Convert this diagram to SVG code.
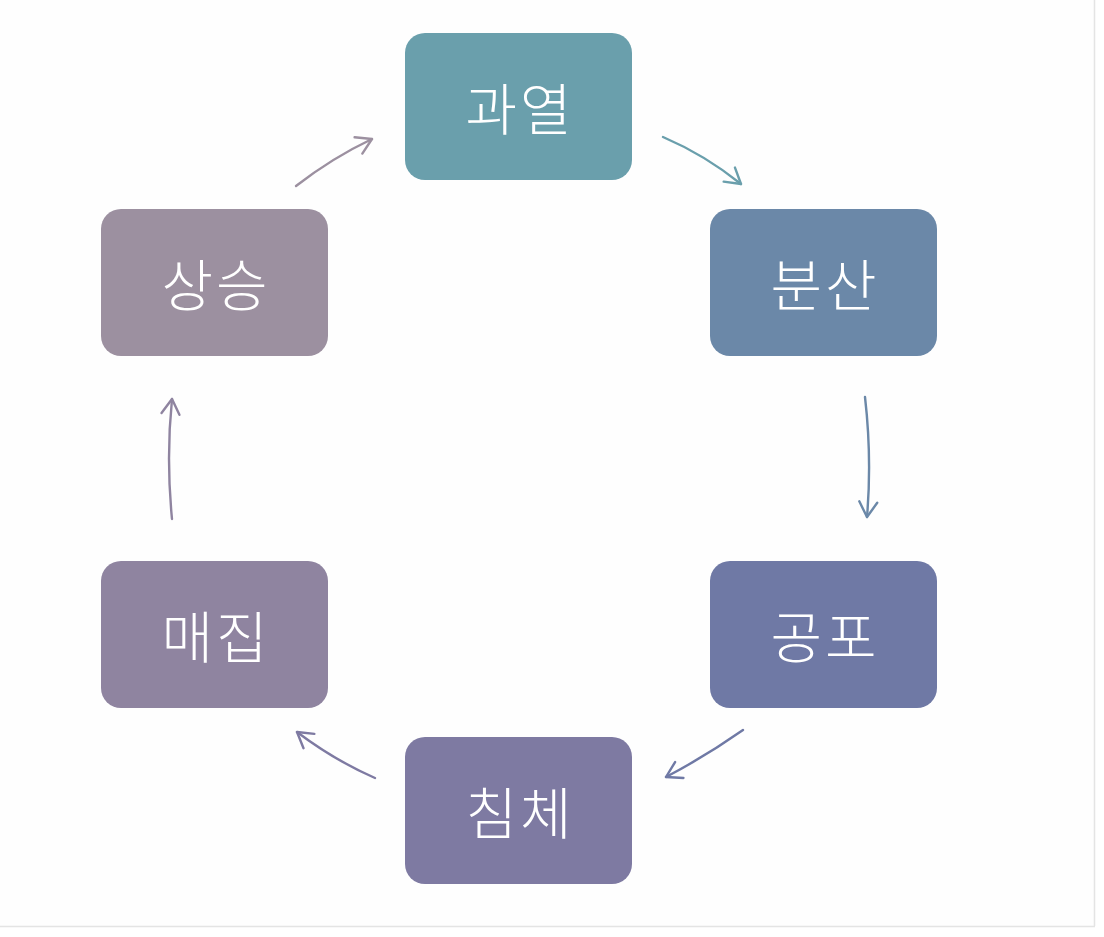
<svg xmlns="http://www.w3.org/2000/svg" width="1104" height="937" viewBox="0 0 1104 937">
<style>
.box{rx:20px;ry:20px}
.lbl{font-family:"Noto Sans CJK KR","Noto Sans",sans-serif;font-size:56px;font-weight:300;letter-spacing:3px;fill:#ffffff;text-anchor:middle;dominant-baseline:central}
.con{fill:none;stroke-width:2.4;stroke-linecap:round}
</style>
<defs>
<marker id="m1" markerUnits="userSpaceOnUse" markerWidth="30" markerHeight="30" refX="0" refY="0" viewBox="-20 -15 30 30" orient="auto" overflow="visible"><path d="M-15,-9 L0,0 L-15,9" fill="none" stroke="#6a9fac" stroke-width="2.4" stroke-linecap="round" stroke-linejoin="round"/></marker>
<marker id="m2" markerUnits="userSpaceOnUse" markerWidth="30" markerHeight="30" refX="0" refY="0" viewBox="-20 -15 30 30" orient="auto" overflow="visible"><path d="M-15,-9 L0,0 L-15,9" fill="none" stroke="#6b88a8" stroke-width="2.4" stroke-linecap="round" stroke-linejoin="round"/></marker>
<marker id="m3" markerUnits="userSpaceOnUse" markerWidth="30" markerHeight="30" refX="0" refY="0" viewBox="-20 -15 30 30" orient="auto" overflow="visible"><path d="M-15,-9 L0,0 L-15,9" fill="none" stroke="#6f79a5" stroke-width="2.4" stroke-linecap="round" stroke-linejoin="round"/></marker>
<marker id="m4" markerUnits="userSpaceOnUse" markerWidth="30" markerHeight="30" refX="0" refY="0" viewBox="-20 -15 30 30" orient="auto" overflow="visible"><path d="M-15,-9 L0,0 L-15,9" fill="none" stroke="#7e7aa2" stroke-width="2.4" stroke-linecap="round" stroke-linejoin="round"/></marker>
<marker id="m5" markerUnits="userSpaceOnUse" markerWidth="30" markerHeight="30" refX="0" refY="0" viewBox="-20 -15 30 30" orient="auto" overflow="visible"><path d="M-15,-9 L0,0 L-15,9" fill="none" stroke="#8f84a0" stroke-width="2.4" stroke-linecap="round" stroke-linejoin="round"/></marker>
<marker id="m6" markerUnits="userSpaceOnUse" markerWidth="30" markerHeight="30" refX="0" refY="0" viewBox="-20 -15 30 30" orient="auto" overflow="visible"><path d="M-15,-9 L0,0 L-15,9" fill="none" stroke="#9c90a0" stroke-width="2.4" stroke-linecap="round" stroke-linejoin="round"/></marker>
</defs>
<rect x="0" y="0" width="1104" height="937" fill="#ffffff"/>
<rect x="0" y="0" width="1094" height="926" fill="#fefefe"/>
<line x1="1094.5" y1="0" x2="1094.5" y2="926" stroke="#e4e4e4" stroke-width="1.5"/>
<line x1="0" y1="926.5" x2="1095" y2="926.5" stroke="#e4e4e4" stroke-width="1.5"/>

<g id="connectors">
<path class="con" stroke="#6a9fac" d="M663,137 Q705,155 741,184" marker-end="url(#m1)"/>
<path class="con" stroke="#6b88a8" d="M865,397 Q872,458 867,517" marker-end="url(#m2)"/>
<path class="con" stroke="#6f79a5" d="M743,730 Q706,756 666,777" marker-end="url(#m3)"/>
<path class="con" stroke="#7e7aa2" d="M375,778 Q334,760 297,732" marker-end="url(#m4)"/>
<path class="con" stroke="#8f84a0" d="M172,519 Q166,458 172,399" marker-end="url(#m5)"/>
<path class="con" stroke="#9c90a0" d="M296,186 Q332,158 372,139" marker-end="url(#m6)"/>
</g>

<g id="n1"><rect class="box" x="405" y="33" width="227" height="147" fill="#6a9fac"/><text class="lbl" x="520" y="105">과열</text></g>
<g id="n2"><rect class="box" x="710" y="209" width="227" height="147" fill="#6b88a8"/><text class="lbl" x="825" y="281">분산</text></g>
<g id="n3"><rect class="box" x="710" y="561" width="227" height="147" fill="#6f79a5"/><text class="lbl" x="825" y="633">공포</text></g>
<g id="n4"><rect class="box" x="405" y="737" width="227" height="147" fill="#7e7aa2"/><text class="lbl" x="520" y="809">침체</text></g>
<g id="n5"><rect class="box" x="101" y="561" width="227" height="147" fill="#8f84a0"/><text class="lbl" x="216" y="633">매집</text></g>
<g id="n6"><rect class="box" x="101" y="209" width="227" height="147" fill="#9c90a0"/><text class="lbl" x="216" y="281">상승</text></g>
</svg>
